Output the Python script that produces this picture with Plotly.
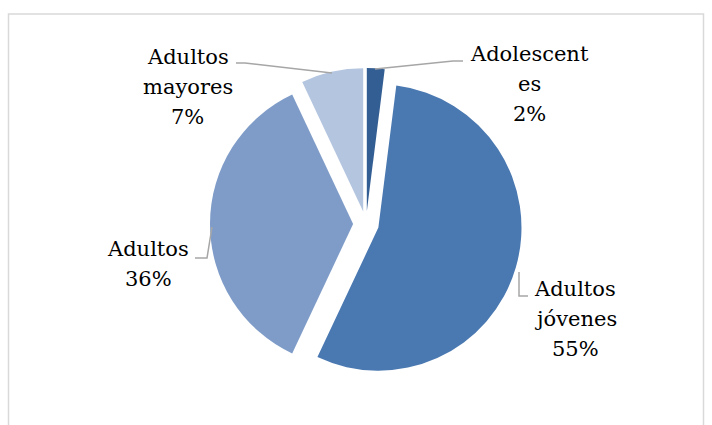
import plotly.graph_objects as go

# ---- data ----
categories = ["Adolescentes", "Adultos jóvenes", "Adultos", "Adultos mayores"]
values = [2, 55, 36, 7]
label_lines = [["Adolescent", "es"], ["Adultos", "jóvenes"], ["Adultos"], ["Adultos", "mayores"]]
colors = ["#335E93", "#4A78B1", "#7F9CC8", "#B4C5E0"]

W, H = 712, 425

def px(x):
    return x / W

def py(y):
    return 1 - y / H

fig = go.Figure()
fig.add_trace(go.Pie(
    labels=categories, values=values, sort=False, direction="clockwise", rotation=0,
    marker=dict(colors=colors, line=dict(width=0)),
    pull=[0.09, 0.09, 0.09, 0.09],
    textinfo="none", hoverinfo="label+percent", showlegend=False,
    domain=dict(x=[px(210), px(522)], y=[py(380), py(68)]),
))

FONT = "DejaVu Serif"

# label placements (center x, first-line center y) in pixels
label_pos = [(529, 54), (575, 289), (148, 249), (188, 57)]
line_gap = 30
total = sum(values)
annotations = []
for cat_lines, v, (cx, cy) in zip(label_lines, values, label_pos):
    lines = cat_lines + [f"{round(100 * v / total)}%"]
    for i, t in enumerate(lines):
        annotations.append(dict(
            x=px(cx), y=py(cy + i * line_gap), xref="paper", yref="paper",
            text=t, showarrow=False, xanchor="center", yanchor="middle",
            font=dict(family=FONT, size=21, color="#000000"),
        ))

leaders = [
    [(375, 69), (453, 61), (463, 61)],
    [(519, 272), (519, 296), (528, 296)],
    [(195, 258), (207, 258), (212, 227)],
    [(236, 63), (245, 63), (332, 73)],
]
shapes = []
for pts in leaders:
    path = "M " + " L ".join(f"{px(x)},{py(y)}" for x, y in pts)
    shapes.append(dict(type="path", path=path, xref="paper", yref="paper",
                       line=dict(color="#A6A6A6", width=1.5)))
shapes.append(dict(type="rect", xref="paper", yref="paper",
                   x0=px(8.5), x1=px(703.5), y0=py(440), y1=py(14),
                   line=dict(color="#D9D9D9", width=1.5), fillcolor="rgba(0,0,0,0)"))

fig.update_layout(
    width=W, height=H, margin=dict(l=0, r=0, t=0, b=0),
    paper_bgcolor="white", plot_bgcolor="white",
    font=dict(family=FONT),
    annotations=annotations, shapes=shapes,
)
fig.write_html("out.html")
